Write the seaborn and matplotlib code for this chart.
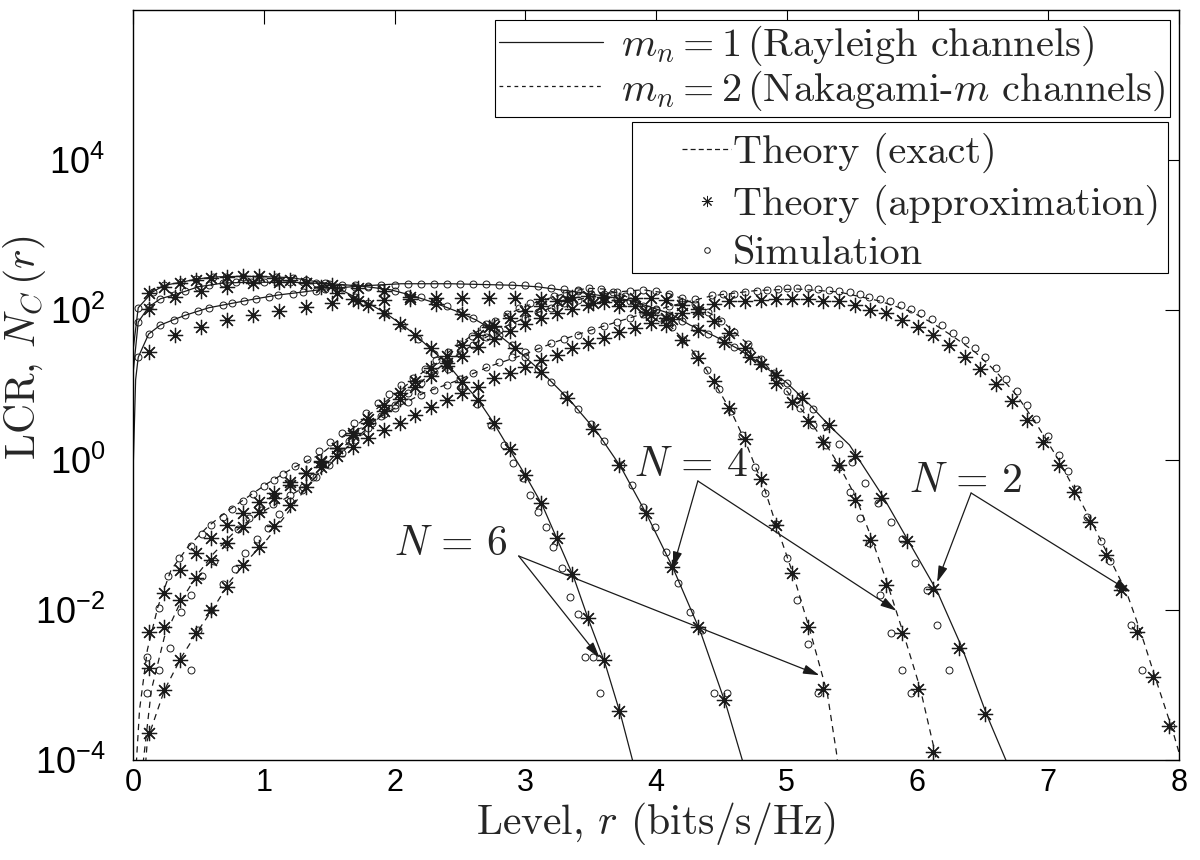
import matplotlib
matplotlib.use("Agg")
import matplotlib.pyplot as plt
from matplotlib.lines import Line2D
from matplotlib.patches import Rectangle
from matplotlib.ticker import NullLocator
import pandas as pd
import seaborn as sns

# ---------------- data: (level r, log10 of LCR) ----------------
S6_LINE = [(0.003, 1.5), (0.04, 2.03), (0.15, 2.24), (0.24, 2.33), (0.37, 2.37), (0.48, 2.41), (0.61, 2.44),
           (0.84, 2.45), (1.09, 2.44), (1.22, 2.43), (1.32, 2.40), (1.47, 2.36), (1.57, 2.29), (1.70, 2.17),
           (1.80, 2.09), (1.93, 1.96), (2.06, 1.80), (2.16, 1.67), (2.27, 1.49), (2.40, 1.29), (2.52, 1.04),
           (2.64, 0.80), (2.76, 0.49), (2.87, 0.17), (3.00, -0.20), (3.13, -0.60), (3.24, -1.04), (3.37, -1.56),
           (3.48, -2.11), (3.61, -2.71), (3.73, -3.40), (3.82, -4.0), (3.84, -4.2)]
S6_STAR = [(0.12, 2.23), (0.24, 2.31), (0.36, 2.36), (0.48, 2.40), (0.60, 2.43), (0.72, 2.44), (0.84, 2.45),
           (0.96, 2.45), (1.08, 2.43), (1.20, 2.40), (1.32, 2.36), (1.44, 2.31), (1.56, 2.23), (1.68, 2.15),
           (1.80, 2.07), (1.92, 1.96), (2.04, 1.82), (2.16, 1.67), (2.28, 1.49), (2.40, 1.29), (2.52, 1.04),
           (2.64, 0.80), (2.76, 0.49), (2.88, 0.15), (3.00, -0.20), (3.12, -0.57), (3.24, -1.04), (3.36, -1.52),
           (3.48, -2.11), (3.60, -2.66), (3.72, -3.34)]
S6_SIM = [(0.04, 2.03), (0.15, 2.24), (0.24, 2.33), (0.37, 2.37), (0.48, 2.41), (0.61, 2.44), (0.71, 2.44),
          (0.84, 2.44), (0.96, 2.44), (1.09, 2.44), (1.22, 2.43), (1.32, 2.40), (1.47, 2.36), (1.57, 2.29),
          (1.70, 2.17), (1.80, 2.09), (1.93, 1.96), (2.06, 1.80), (2.18, 1.62), (2.30, 1.42), (2.41, 1.22),
          (2.52, 0.99), (2.63, 0.75), (2.74, 0.47), (2.84, 0.20), (2.91, -0.04), (2.98, -0.24), (3.04, -0.47),
          (3.10, -0.69), (3.16, -0.89), (3.21, -1.16), (3.28, -1.44), (3.34, -1.82), (3.40, -2.05),
          (3.46, -2.63), (3.52, -2.63), (3.57, -3.10)]

S4_LINE = [(0.003, 1.2), (0.04, 1.84), (0.12, 2.04), (0.21, 2.15), (0.31, 2.20), (0.40, 2.25), (0.50, 2.31),
           (0.58, 2.33), (0.69, 2.36), (0.90, 2.37), (1.21, 2.37), (1.51, 2.35), (1.74, 2.32), (1.97, 2.27),
           (2.12, 2.20), (2.30, 2.10), (2.48, 1.98), (2.62, 1.87), (2.73, 1.76), (2.91, 1.51), (3.11, 1.20),
           (3.34, 0.80), (3.55, 0.37), (3.73, -0.09), (3.93, -0.73), (4.13, -1.44), (4.34, -2.29),
           (4.54, -3.29), (4.66, -4.0), (4.68, -4.2)]
S4_STAR = [(0.12, 2.01), (0.32, 2.17), (0.52, 2.25), (0.72, 2.31), (0.92, 2.36), (1.12, 2.37), (1.32, 2.36),
           (1.52, 2.33), (1.72, 2.30), (1.92, 2.25), (2.12, 2.17), (2.32, 2.08), (2.52, 1.95), (2.72, 1.77),
           (2.92, 1.50), (3.12, 1.18), (3.32, 0.83), (3.52, 0.42), (3.72, -0.07), (3.92, -0.70),
           (4.12, -1.42), (4.32, -2.22), (4.52, -3.20)]
S4_SIM = [(0.04, 1.84), (0.12, 2.04), (0.21, 2.15), (0.31, 2.20), (0.40, 2.25), (0.50, 2.31), (0.58, 2.33),
          (0.69, 2.36), (0.79, 2.37), (0.90, 2.37), (1.0, 2.37), (1.1, 2.37), (1.2, 2.37), (1.3, 2.37),
          (1.4, 2.36), (1.5, 2.35), (1.6, 2.34), (1.7, 2.33), (1.8, 2.31), (1.9, 2.29), (2.0, 2.26),
          (2.1, 2.22), (2.2, 2.17), (2.3, 2.11), (2.4, 2.05), (2.5, 1.98), (2.6, 1.90), (2.7, 1.81),
          (2.8, 1.67), (2.9, 1.53), (3.0, 1.37), (3.1, 1.21), (3.2, 1.04), (3.3, 0.87), (3.4, 0.68),
          (3.5, 0.48), (3.6, 0.26), (3.73, -0.07), (3.82, -0.33), (3.90, -0.63), (3.99, -0.89),
          (4.08, -1.23), (4.17, -1.64), (4.26, -2.03), (4.35, -2.27), (4.44, -3.10), (4.54, -3.10)]

S2_LINE = [(0.003, 0.0), (0.02, 1.07), (0.04, 1.37), (0.12, 1.68), (0.21, 1.80), (0.31, 1.87), (0.40, 1.93),
           (0.58, 2.03), (0.76, 2.09), (0.94, 2.15), (1.11, 2.20), (1.30, 2.24), (1.47, 2.28), (1.74, 2.32),
           (2.05, 2.35), (2.43, 2.35), (2.91, 2.33), (3.09, 2.31), (3.44, 2.23), (3.80, 2.13), (4.11, 1.95),
           (4.26, 1.80), (4.45, 1.65), (4.63, 1.48), (4.81, 1.27), (5.00, 1.03), (5.18, 0.73), (5.33, 0.45),
           (5.48, 0.20), (5.73, -0.47), (5.94, -1.11), (6.15, -1.75), (6.34, -2.50), (6.53, -3.40),
           (6.70, -4.10)]
S2_STAR = [(0.12, 1.44), (0.32, 1.67), (0.52, 1.77), (0.72, 1.87), (0.92, 1.93), (1.12, 1.99), (1.32, 2.04),
           (1.52, 2.09), (1.72, 2.12), (1.92, 2.14), (2.12, 2.15), (2.32, 2.16), (2.52, 2.16), (2.72, 2.16),
           (2.92, 2.16), (3.12, 2.15), (3.32, 2.13), (3.52, 2.10), (3.72, 2.05), (3.92, 1.98), (4.12, 1.88),
           (4.32, 1.74), (4.52, 1.57), (4.72, 1.37), (4.92, 1.13), (5.12, 0.83), (5.32, 0.47), (5.52, 0.05),
           (5.72, -0.50), (5.92, -1.08), (6.12, -1.72), (6.32, -2.50), (6.52, -3.38)]
S2_SIM = [(0.04, 1.37), (0.12, 1.68), (0.21, 1.80), (0.31, 1.87), (0.40, 1.93), (0.50, 1.99), (0.58, 2.03),
          (0.69, 2.07), (0.76, 2.09), (0.85, 2.12), (0.94, 2.15), (1.04, 2.18), (1.11, 2.20), (1.22, 2.22),
          (1.30, 2.24), (1.40, 2.26), (1.47, 2.28), (1.6, 2.30), (1.7, 2.31), (1.8, 2.32), (1.9, 2.33),
          (2.0, 2.34), (2.1, 2.35), (2.2, 2.35), (2.3, 2.35), (2.4, 2.35), (2.5, 2.35), (2.6, 2.35),
          (2.7, 2.35), (2.8, 2.34), (2.9, 2.34), (3.0, 2.33), (3.1, 2.32), (3.2, 2.30), (3.3, 2.28),
          (3.4, 2.25), (3.5, 2.22), (3.6, 2.19), (3.7, 2.16), (3.8, 2.12), (3.9, 2.06), (4.0, 2.00),
          (4.1, 1.94), (4.2, 1.85), (4.3, 1.76), (4.4, 1.68), (4.5, 1.60), (4.6, 1.51), (4.7, 1.40),
          (4.8, 1.28), (4.9, 1.16), (5.0, 1.03), (5.1, 0.86), (5.2, 0.68), (5.3, 0.45), (5.4, 0.22),
          (5.5, -0.03), (5.6, -0.30), (5.7, -0.57), (5.8, -0.83), (5.88, -1.05), (5.98, -1.37),
          (6.07, -1.73), (6.15, -2.20), (6.24, -2.80)]

D6_LINE = [(0.02, -4.2), (0.05, -3.33), (0.11, -2.53), (0.19, -1.96), (0.29, -1.47), (0.42, -1.16),
           (0.57, -0.89), (0.73, -0.67), (0.88, -0.49), (1.03, -0.31), (1.23, -0.10), (1.44, 0.08),
           (1.70, 0.45), (1.89, 0.72), (2.15, 1.08), (2.40, 1.42), (2.63, 1.71), (2.86, 1.94), (3.06, 2.09),
           (3.32, 2.23), (3.47, 2.29), (3.60, 2.28), (3.75, 2.20), (3.88, 2.08), (4.03, 1.90), (4.13, 1.75),
           (4.20, 1.62), (4.34, 1.33), (4.45, 1.02), (4.58, 0.63), (4.69, 0.22), (4.76, -0.09), (4.82, -0.33),
           (4.92, -0.87), (5.05, -1.53), (5.18, -2.29), (5.31, -3.11), (5.38, -3.90), (5.40, -4.2)]
D6_STAR = [(0.12, -2.29), (0.24, -1.77), (0.36, -1.47), (0.48, -1.24), (0.60, -1.04), (0.72, -0.87),
           (0.84, -0.70), (0.96, -0.56), (1.08, -0.44), (1.20, -0.29), (1.32, -0.17), (1.44, -0.03),
           (1.56, 0.16), (1.68, 0.36), (1.80, 0.55), (1.92, 0.73), (2.04, 0.90), (2.16, 1.06), (2.28, 1.23),
           (2.40, 1.39), (2.52, 1.54), (2.64, 1.67), (2.76, 1.79), (2.88, 1.90), (3.00, 1.99), (3.12, 2.06),
           (3.24, 2.12), (3.36, 2.17), (3.48, 2.19), (3.60, 2.18), (3.72, 2.13), (3.84, 2.05), (3.96, 1.94),
           (4.08, 1.80), (4.20, 1.60), (4.32, 1.36), (4.44, 1.05), (4.56, 0.70), (4.68, 0.28), (4.80, -0.25),
           (4.92, -0.87), (5.04, -1.50), (5.16, -2.22), (5.28, -3.05)]
D6_SIM = [(0.11, -2.63), (0.20, -1.97), (0.27, -1.55), (0.35, -1.30), (0.44, -1.14), (0.53, -0.99),
          (0.60, -0.87), (0.69, -0.76), (0.76, -0.65), (0.84, -0.55), (0.92, -0.45), (1.00, -0.35),
          (1.08, -0.26), (1.15, -0.18), (1.24, -0.08), (1.33, 0.02), (1.42, 0.12), (1.51, 0.24), (1.60, 0.36),
          (1.69, 0.50), (1.78, 0.63), (1.87, 0.76), (1.96, 0.88), (2.05, 1.00), (2.14, 1.10), (2.23, 1.22),
          (2.32, 1.33), (2.41, 1.44), (2.50, 1.55), (2.59, 1.66), (2.68, 1.76), (2.77, 1.86), (2.86, 1.95),
          (2.95, 2.03), (3.04, 2.09), (3.13, 2.14), (3.22, 2.19), (3.31, 2.23), (3.40, 2.27), (3.49, 2.29),
          (3.58, 2.28), (3.67, 2.24), (3.76, 2.19), (3.85, 2.11), (3.94, 2.01), (4.03, 1.90), (4.12, 1.77),
          (4.21, 1.60), (4.30, 1.42), (4.39, 1.20), (4.48, 0.95), (4.57, 0.66), (4.66, 0.33), (4.76, -0.09),
          (4.83, -0.44), (4.92, -0.85), (5.00, -1.31), (5.08, -1.87), (5.16, -2.45), (5.24, -3.10)]

D4_LINE = [(0.07, -4.2), (0.08, -4.0), (0.14, -3.07), (0.24, -2.36), (0.37, -1.87), (0.50, -1.51),
           (0.62, -1.24), (0.77, -0.97), (0.92, -0.76), (1.11, -0.57), (1.31, -0.36), (1.49, -0.09),
           (1.70, 0.28), (1.97, 0.70), (2.20, 1.04), (2.40, 1.31), (2.63, 1.57), (2.86, 1.79), (3.10, 1.97),
           (3.30, 2.09), (3.50, 2.18), (3.70, 2.24), (3.90, 2.27), (4.10, 2.22), (4.30, 2.08), (4.50, 1.86),
           (4.70, 1.55), (4.85, 1.25), (5.00, 0.92), (5.16, 0.57), (5.31, 0.18), (5.40, -0.07), (5.53, -0.50),
           (5.65, -1.05), (5.77, -1.65), (5.89, -2.30), (6.02, -3.04), (6.13, -3.87), (6.16, -4.2)]
D4_STAR = [(0.12, -2.77), (0.24, -2.23), (0.36, -1.87), (0.48, -1.57), (0.60, -1.33), (0.72, -1.11),
           (0.84, -0.89), (0.96, -0.69), (1.08, -0.50), (1.20, -0.33), (1.32, -0.17), (1.44, -0.01),
           (1.56, 0.16), (1.68, 0.33), (1.80, 0.50), (1.92, 0.66), (2.04, 0.82), (2.16, 0.97), (2.28, 1.12),
           (2.40, 1.26), (2.52, 1.39), (2.64, 1.51), (2.76, 1.62), (2.88, 1.72), (3.00, 1.81), (3.12, 1.89),
           (3.24, 1.96), (3.36, 2.02), (3.48, 2.07), (3.60, 2.11), (3.72, 2.14), (3.84, 2.16), (3.96, 2.16),
           (4.08, 2.13), (4.20, 2.07), (4.32, 1.98), (4.44, 1.85), (4.56, 1.69), (4.68, 1.50), (4.80, 1.28),
           (4.92, 1.03), (5.04, 0.78), (5.16, 0.52), (5.28, 0.24), (5.40, -0.07), (5.52, -0.53),
           (5.64, -1.07), (5.76, -1.67), (5.88, -2.31), (6.00, -3.05), (6.12, -3.89)]
D4_SIM = [(0.11, -3.10), (0.20, -2.80), (0.28, -2.50), (0.37, -2.03), (0.44, -1.80), (0.53, -1.55),
          (0.62, -1.35), (0.71, -1.12), (0.80, -0.92), (0.89, -0.77), (0.98, -0.67), (1.07, -0.58),
          (1.20, -0.47), (1.30, -0.36), (1.40, -0.22), (1.50, -0.07), (1.60, 0.10), (1.70, 0.27), (1.80, 0.43),
          (1.90, 0.59), (2.00, 0.74), (2.10, 0.89), (2.20, 1.03), (2.30, 1.17), (2.40, 1.30), (2.50, 1.42),
          (2.60, 1.53), (2.70, 1.64), (2.80, 1.73), (2.90, 1.82), (3.00, 1.90), (3.10, 1.97), (3.20, 2.03),
          (3.30, 2.09), (3.40, 2.14), (3.50, 2.18), (3.60, 2.21), (3.70, 2.24), (3.80, 2.26), (3.90, 2.27),
          (4.00, 2.25), (4.10, 2.22), (4.20, 2.16), (4.30, 2.08), (4.40, 1.98), (4.50, 1.86), (4.60, 1.71),
          (4.70, 1.55), (4.80, 1.35), (4.90, 1.14), (5.00, 0.92), (5.10, 0.70), (5.20, 0.47), (5.30, 0.20),
          (5.40, -0.09), (5.48, -0.43), (5.56, -0.77), (5.63, -1.11), (5.71, -1.80), (5.80, -2.31),
          (5.88, -2.80), (5.95, -3.10)]

D2_LINE = [(0.09, -4.2), (0.11, -3.73), (0.24, -3.07), (0.37, -2.63), (0.50, -2.27), (0.62, -1.96),
           (0.75, -1.60), (0.88, -1.33), (1.03, -1.05), (1.18, -0.71), (1.32, -0.38), (1.45, -0.11),
           (1.57, 0.11), (1.78, 0.45), (1.97, 0.66), (2.22, 0.89), (2.48, 1.06), (2.73, 1.25), (2.98, 1.40),
           (3.24, 1.58), (3.50, 1.73), (3.70, 1.84), (3.90, 1.95), (4.15, 2.07), (4.43, 2.19), (4.77, 2.26),
           (5.08, 2.28), (5.40, 2.24), (5.71, 2.12), (5.95, 1.98), (6.11, 1.83), (6.27, 1.65), (6.44, 1.44),
           (6.60, 1.18), (6.76, 0.86), (6.91, 0.48), (7.08, 0.00), (7.22, -0.46), (7.33, -0.82), (7.47, -1.31),
           (7.60, -1.77), (7.71, -2.31), (7.82, -2.91), (7.95, -3.60), (8.0, -3.90)]
D2_STAR = [(0.12, -3.64), (0.24, -3.07), (0.36, -2.67), (0.48, -2.31), (0.60, -2.00), (0.72, -1.69),
           (0.84, -1.40), (0.96, -1.16), (1.08, -0.88), (1.20, -0.60), (1.32, -0.36), (1.44, -0.09),
           (1.56, 0.05), (1.68, 0.18), (1.80, 0.29), (1.92, 0.40), (2.04, 0.49), (2.16, 0.60), (2.28, 0.71),
           (2.40, 0.80), (2.52, 0.89), (2.64, 0.97), (2.76, 1.09), (2.88, 1.16), (3.00, 1.24), (3.12, 1.33),
           (3.24, 1.40), (3.36, 1.49), (3.48, 1.56), (3.60, 1.63), (3.72, 1.71), (3.84, 1.76), (3.96, 1.83),
           (4.08, 1.90), (4.20, 1.96), (4.32, 2.02), (4.44, 2.08), (4.56, 2.12), (4.68, 2.12), (4.80, 2.13),
           (4.92, 2.15), (5.04, 2.15), (5.16, 2.15), (5.28, 2.12), (5.40, 2.12), (5.52, 2.07), (5.64, 2.00),
           (5.76, 1.96), (5.88, 1.87), (6.00, 1.77), (6.12, 1.67), (6.24, 1.53), (6.36, 1.37), (6.48, 1.21),
           (6.60, 1.01), (6.72, 0.79), (6.84, 0.53), (6.96, 0.24), (7.08, -0.07), (7.20, -0.43), (7.32, -0.83),
           (7.44, -1.27), (7.56, -1.73), (7.68, -2.29), (7.80, -2.89), (7.92, -3.55)]
D2_SIM = [(0.44, -2.80), (0.50, -2.27), (0.60, -2.00), (0.69, -1.65), (0.78, -1.45), (0.86, -1.24),
          (0.95, -1.05), (1.03, -0.90), (1.12, -0.72), (1.20, -0.55), (1.29, -0.40), (1.38, -0.22),
          (1.47, -0.05), (1.56, 0.11), (1.65, 0.25), (1.74, 0.39), (1.83, 0.50), (1.92, 0.61), (2.00, 0.69),
          (2.10, 0.78), (2.20, 0.87), (2.30, 0.94), (2.40, 1.00), (2.50, 1.08), (2.60, 1.16), (2.70, 1.24),
          (2.80, 1.31), (2.90, 1.38), (3.00, 1.44), (3.10, 1.50), (3.20, 1.56), (3.30, 1.62), (3.40, 1.67),
          (3.50, 1.73), (3.60, 1.79), (3.70, 1.84), (3.80, 1.90), (3.90, 1.95), (4.00, 2.01), (4.10, 2.06),
          (4.20, 2.11), (4.30, 2.15), (4.43, 2.20), (4.51, 2.21), (4.60, 2.22), (4.68, 2.24), (4.77, 2.25),
          (4.85, 2.27), (4.93, 2.28), (5.00, 2.29), (5.08, 2.29), (5.16, 2.29), (5.24, 2.28), (5.32, 2.27),
          (5.40, 2.26), (5.48, 2.24), (5.56, 2.21), (5.63, 2.18), (5.71, 2.15), (5.79, 2.12), (5.87, 2.07),
          (5.95, 2.02), (6.03, 1.96), (6.11, 1.88), (6.19, 1.80), (6.27, 1.70), (6.36, 1.60), (6.44, 1.49),
          (6.52, 1.37), (6.60, 1.23), (6.68, 1.08), (6.76, 0.92), (6.84, 0.74), (6.91, 0.55), (7.00, 0.32),
          (7.08, 0.07), (7.15, -0.15), (7.22, -0.38), (7.30, -0.76), (7.40, -1.08), (7.47, -1.35),
          (7.55, -1.70), (7.63, -2.20), (7.72, -2.80), (7.94, -3.55)]

X_TICKS = [0, 1, 2, 3, 4, 5, 6, 7, 8]
Y_TICK_EXP = [-4, -2, 0, 2, 4]
LEGEND_CHANNELS = [r"$m_n = 1\,$(Rayleigh channels)", r"$m_n = 2\,$(Nakagami-$m$ channels)"]
LEGEND_KINDS = ["Theory (exact)", "Theory (approximation)", "Simulation"]
# annotation: label, label centre (r, log10), arrow start, arrow tips
ANNOTATIONS = [
    (r"$N\,=\,6$", (2.43, -1.13), (2.95, -1.28), [(3.57, -2.64), (5.25, -2.87)]),
    (r"$N\,=\,4$", (4.27, -0.07), (4.32, -0.28), [(4.13, -1.44), (5.84, -2.01)]),
    (r"$N\,=\,2$", (6.37, -0.29), (6.41, -0.44), [(6.15, -1.63), (7.63, -1.76)]),
]

# ---------------- style ----------------
sns.set_theme(style="white")
plt.rcParams.update({
    "font.family": ["cmr10", "DejaVu Serif"],
    "mathtext.fontset": "cm",
    "axes.unicode_minus": False,
    "axes.formatter.use_mathtext": True,
    "mathtext.rm": "Liberation Sans",
    "mathtext.it": "Liberation Sans:italic",
    "mathtext.bf": "Liberation Sans:bold",
    "mathtext.sf": "Liberation Sans",
    "axes.edgecolor": "black",
    "axes.linewidth": 1.0,
})

DASH = (0, (5, 4))
STAR = (8, 2, 0)

fig = plt.figure(figsize=(12, 8.6), dpi=100)
ax = fig.add_axes([133 / 1200, 1 - 760 / 860, 1046 / 1200, 750 / 860])
ax.set_yscale("log")


def frame(pts):
    df = pd.DataFrame(pts, columns=["r", "logN"])
    df["N"] = 10.0 ** df["logN"]
    return df


curves = [
    (S6_LINE, S6_STAR, S6_SIM, "-"),
    (S4_LINE, S4_STAR, S4_SIM, "-"),
    (S2_LINE, S2_STAR, S2_SIM, "-"),
    (D6_LINE, D6_STAR, D6_SIM, DASH),
    (D4_LINE, D4_STAR, D4_SIM, DASH),
    (D2_LINE, D2_STAR, D2_SIM, DASH),
]
for line_pts, star_pts, sim_pts, ls in curves:
    sns.lineplot(data=frame(line_pts), x="r", y="N", ax=ax, color="k", linewidth=0.9,
                 linestyle=ls, sort=False, estimator=None, legend=False)
    sns.lineplot(data=frame(star_pts), x="r", y="N", ax=ax, color="k", linestyle="none",
                 marker=STAR, markersize=11, markeredgewidth=0.9, markeredgecolor="k",
                 sort=False, estimator=None, legend=False)
    sns.lineplot(data=frame(sim_pts), x="r", y="N", ax=ax, color="k", linestyle="none",
                 marker="o", markersize=5, markeredgewidth=0.7, markeredgecolor="k",
                 markerfacecolor="none", sort=False, estimator=None, legend=False)

for label, centre, start, tips in ANNOTATIONS:
    ax.text(centre[0], 10.0 ** centre[1], label, fontsize=30, ha="center", va="center")
    for tip in tips:
        ax.annotate("", xy=(tip[0], 10.0 ** tip[1]), xytext=(start[0], 10.0 ** start[1]),
                    arrowprops=dict(arrowstyle="-|>,head_length=0.7,head_width=0.2", color="k",
                                    lw=0.9, mutation_scale=14, shrinkA=0, shrinkB=0))

ax.set_xlim(0, 8)
ax.set_ylim(1e-4, 1e6)
ax.set_xticks(X_TICKS, [str(t) for t in X_TICKS])
ax.set_yticks([10.0 ** e for e in Y_TICK_EXP], [r"$10^{%d}$" % e for e in Y_TICK_EXP])
ax.yaxis.set_minor_locator(NullLocator())
ax.tick_params(direction="in", length=10, width=0.8, top=True, right=True, colors="black")
ax.tick_params(axis="x", labelsize=22, pad=6)
ax.tick_params(axis="y", labelsize=26, pad=20)
for lbl in ax.get_xticklabels() + ax.get_yticklabels():
    lbl.set_fontfamily("Liberation Sans")
    lbl.set_math_fontfamily("custom")
for s in ax.spines.values():
    s.set_visible(True)
    s.set_color("black")

ax.set_xlabel(r"Level, $r$ (bits/s/Hz)", fontsize=30)
ax.set_ylabel(r"LCR, $N_C\,(r)$", fontsize=30)
ax.xaxis.set_label_coords(0.5, -0.0533)
ax.xaxis.label.set_va("top")
ax.yaxis.set_label_coords(-0.1033, 0.55)
ax.yaxis.label.set_va("center")

h1 = [Line2D([], [], color="k", lw=0.9, ls="-"), Line2D([], [], color="k", lw=0.9, ls=(0, (3, 3)))]
leg1 = ax.legend(h1, LEGEND_CHANNELS, loc="upper right", bbox_to_anchor=(0.9914, 0.9867),
                 fontsize=29, handlelength=2.6, handletextpad=0.45, labelspacing=0.0,
                 fancybox=False, framealpha=1, edgecolor="black", borderpad=0.1, borderaxespad=0)
leg1.get_frame().set_linewidth(0.8)
ax.add_artist(leg1)

# second legend: MATLAB-style box with a wide left margin
ax.add_patch(Rectangle((0.477, 0.6493), 0.5124, 0.2013, transform=ax.transAxes, facecolor="white",
                       edgecolor="black", linewidth=0.8, zorder=4))
h2 = [Line2D([], [], color="k", lw=0.9, ls=(0, (4, 2.5))),
      Line2D([], [], color="k", ls="none", marker=STAR, markersize=8, markeredgewidth=0.7),
      Line2D([], [], color="k", ls="none", marker="o", markersize=4, markeredgewidth=0.7,
             markerfacecolor="none")]
leg2 = ax.legend(h2, LEGEND_KINDS, loc="upper right", bbox_to_anchor=(0.9895, 0.8467),
                 fontsize=29, handlelength=1.2, handletextpad=0.05, labelspacing=0.28,
                 frameon=False, borderpad=0.2, borderaxespad=0)
leg2.set_zorder(6)

fig.savefig("out.png", dpi=100)
